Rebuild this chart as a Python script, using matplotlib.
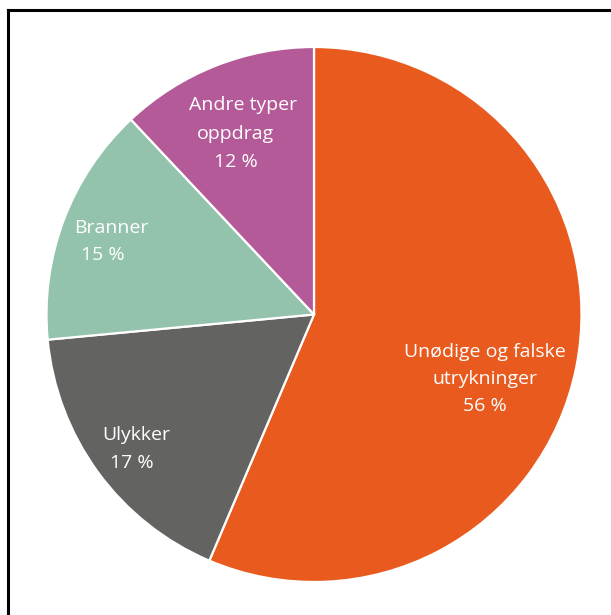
import matplotlib
matplotlib.use("Agg")
import matplotlib.pyplot as plt
from matplotlib.lines import Line2D

# Andel oppdrag etter type (les av fra figuren)
categories = ["Unødige og falske\nutrykninger", "Ulykker", "Branner", "Andre typer\noppdrag"]
shares = [56.4, 17.1, 14.5, 12.0]
pct_labels = ["56 %", "17 %", "15 %", "12 %"]
colors = ["#E95A1F", "#636361", "#93C3AC", "#B55A98"]

W, H = 611, 615
fig = plt.figure(figsize=(W / 100, H / 100), dpi=100)

# pie center and radius in pixels
cx, cy, r = 314, 314.5, 267.5
ax = fig.add_axes([(cx - r) / W, 1 - (cy + r) / H, 2 * r / W, 2 * r / H])
ax.pie(
    shares,
    colors=colors,
    startangle=90,
    counterclock=False,
    wedgeprops=dict(edgecolor="white", linewidth=1.6),
)
ax.set_xlim(-1, 1)
ax.set_ylim(-1, 1)
ax.set_aspect("equal")
ax.axis("off")


def px(x, y):
    return (x - cx) / r, (cy - y) / r


font = dict(color="white", fontsize=14, family="Open Sans", ha="center", va="center")

# label lines placed inside each slice (pixel positions)
label_pos = [
    [(485, 352), (485, 379), (485, 406)],
    [(136, 435), (132, 463)],
    [(111, 228), (103, 255)],
    [(243, 105), (235, 134), (236, 162)],
]
for name, pct, pos in zip(categories, pct_labels, label_pos):
    lines = name.split("\n") + [pct]
    for text, (x, y) in zip(lines, pos):
        ax.text(*px(x, y), text, **font)

# frame (cropped at right and bottom)
fx, fy = 8 / W, 1 - 10 / H
fig.add_artist(Line2D([fx, fx], [0, fy], transform=fig.transFigure, color="black", lw=2.2))
fig.add_artist(Line2D([fx, 1], [fy, fy], transform=fig.transFigure, color="black", lw=2.2))

fig.savefig("out.png", dpi=100)
